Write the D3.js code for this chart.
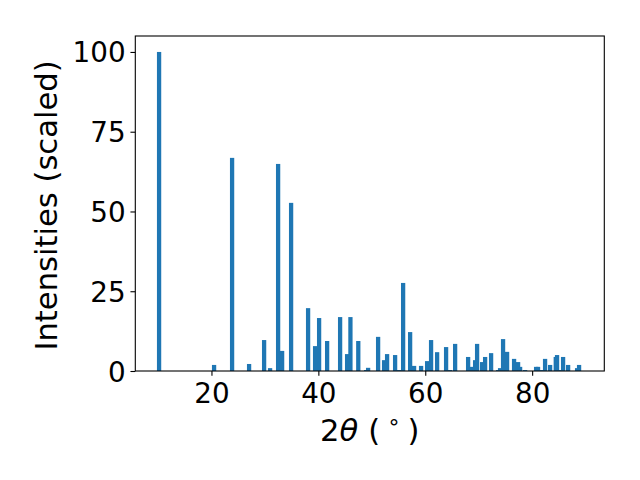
<!DOCTYPE html>
<html>
<head>
<meta charset="utf-8">
<script src="https://cdn.jsdelivr.net/npm/d3@7"></script>
<style>
  html, body { margin: 0; padding: 0; background: #fff; }
  svg { display: block; }
  text { font-family: "DejaVu Sans", sans-serif; fill: #000; }
</style>
</head>
<body>
<svg id="chart" width="640" height="480"></svg>
<script>
// Peak positions (2θ, degrees) and scaled intensities
const twoTheta = [10.20, 20.49, 23.86, 27.04, 29.85, 30.97, 32.47, 33.22, 34.90, 38.08,
  39.39, 40.14, 41.64, 44.07, 45.38, 46.00, 47.47, 48.93, 49.31, 51.18,
  52.30, 52.86, 54.36, 55.11, 55.86, 57.17, 57.91, 59.22, 60.35, 61.09,
  62.22, 63.90, 64.65, 65.59, 68.02, 68.77, 69.33, 69.70, 70.64, 71.20,
  72.32, 73.63, 74.00, 74.56, 75.31, 76.62, 77.37, 77.75, 78.68, 80.74,
  81.10, 81.86, 82.42, 83.36, 84.42, 84.66, 85.40, 85.79, 86.73, 88.41, 88.78];
const intensity = [100, 1.9, 66.8, 2.2, 9.7, 0.9, 64.9, 6.3, 52.7, 19.7,
  7.8, 16.6, 9.4, 16.9, 5.3, 16.9, 9.4, 0.3, 1.0, 10.7,
  3.4, 5.3, 5.0, 0.3, 27.6, 12.2, 1.6, 1.6, 3.1, 9.7,
  5.9, 7.5, 0.3, 8.5, 4.4, 1.3, 3.4, 8.5, 2.8, 4.4,
  5.6, 0.3, 0.9, 10.0, 6.0, 3.8, 2.8, 1.3, 0.3, 1.3,
  1.3, 0.3, 3.8, 1.9, 4.4, 5.0, 0.3, 4.4, 1.9, 0.9, 1.9];
const xTicks = [20, 40, 60, 80];
const yTicks = [0, 25, 50, 75, 100];
const barWidth = 0.8;

const pLeft = 135.3, pRight = 604.3, pTop = 36, pBottom = 371;
const fontPx = 27.8, labelPx = 30.6, tickLen = 4.86, tickPad = 4.86;

const svg = d3.select("#chart");
const x = d3.scaleLinear().domain([5.75, 93.5]).range([pLeft, pRight]);
const y = d3.scaleLinear().domain([0, 105]).range([pBottom, pTop]);

const data = twoTheta.map((t, i) => ({ t, v: intensity[i] }));

svg.append("g")
  .selectAll("rect")
  .data(data)
  .join("rect")
  .attr("x", d => x(d.t - barWidth / 2))
  .attr("width", d => x(d.t + barWidth / 2) - x(d.t - barWidth / 2))
  .attr("y", d => y(d.v))
  .attr("height", d => y(0) - y(d.v))
  .attr("fill", "#1f77b4");

// Axes
const xAxis = svg.append("g")
  .attr("transform", `translate(0,${pBottom})`)
  .call(d3.axisBottom(x).tickValues(xTicks).tickFormat(d3.format("d"))
    .tickSizeInner(tickLen).tickSizeOuter(0).tickPadding(tickPad));
xAxis.select(".domain").remove();
xAxis.selectAll(".tick line").attr("stroke", "#000").attr("stroke-width", 1.1);
xAxis.selectAll(".tick text")
  .attr("font-size", fontPx).attr("font-family", "DejaVu Sans")
  .attr("dy", null).attr("y", 32.3);

const yAxis = svg.append("g")
  .attr("transform", `translate(${pLeft},0)`)
  .call(d3.axisLeft(y).tickValues(yTicks).tickFormat(d3.format("d"))
    .tickSizeInner(tickLen).tickSizeOuter(0).tickPadding(tickPad));
yAxis.select(".domain").remove();
yAxis.selectAll(".tick line").attr("stroke", "#000").attr("stroke-width", 1.1);
yAxis.selectAll(".tick text")
  .attr("font-size", fontPx).attr("font-family", "DejaVu Sans")
  .attr("dy", "0.36em");

// Frame (spines)
svg.append("rect")
  .attr("x", pLeft).attr("y", pTop)
  .attr("width", pRight - pLeft).attr("height", pBottom - pTop)
  .attr("fill", "none").attr("stroke", "#000").attr("stroke-width", 1.1);

// X label: 2θ (°)
const xl = svg.append("text")
  .attr("x", (pLeft + pRight) / 2).attr("y", 441)
  .attr("text-anchor", "middle").attr("font-size", labelPx);
xl.append("tspan").text("2");
xl.append("tspan").attr("font-style", "italic").text("θ");
xl.append("tspan").attr("dx", 10).text("(");
xl.append("tspan").attr("dx", 7).attr("dy", -12).attr("font-size", labelPx * 0.7).text("∘");
xl.append("tspan").attr("dx", 7).attr("dy", 12).text(")");

// Y label
svg.append("text")
  .attr("transform", `translate(57,${(pTop + pBottom) / 2 + 2}) rotate(-90)`)
  .attr("text-anchor", "middle").attr("font-size", labelPx)
  .text("Intensities (scaled)");
</script>
</body>
</html>
